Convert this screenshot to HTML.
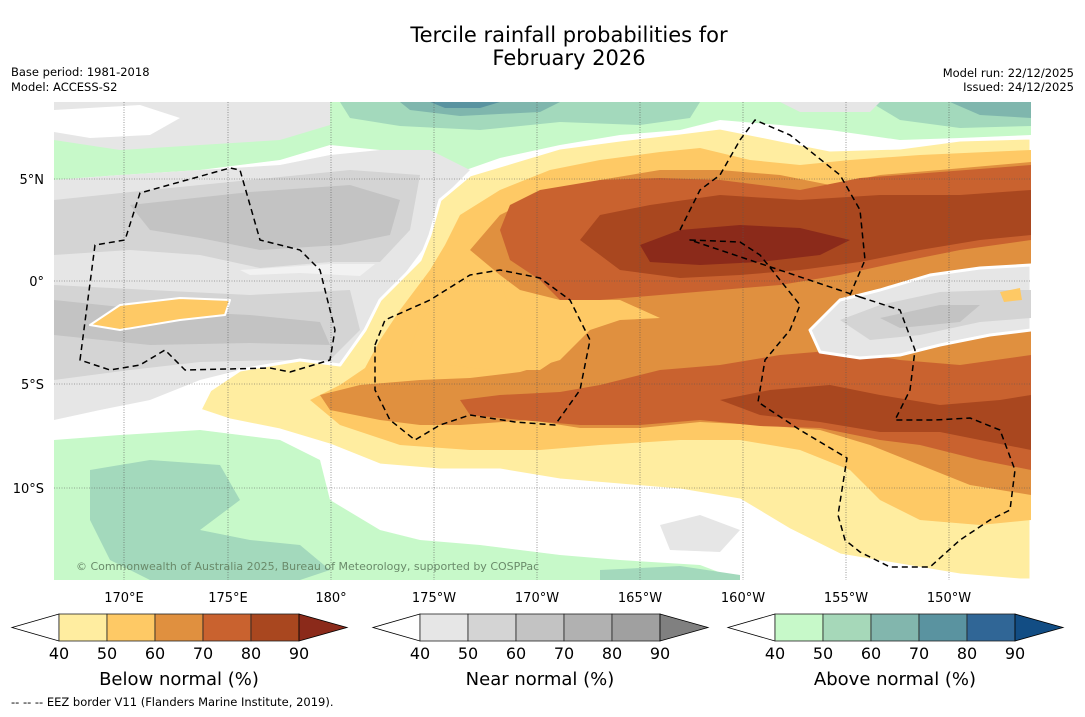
<!DOCTYPE html>
<html><head><meta charset="utf-8">
<style>
html,body{margin:0;padding:0;background:#fff;}
body{width:1085px;height:713px;overflow:hidden;font-family:"DejaVu Sans","Liberation Sans",sans-serif;}
</style></head>
<body>
<svg id="fig" width="1085" height="713" viewBox="0 0 1085 713" xmlns="http://www.w3.org/2000/svg" font-family="DejaVu Sans, Liberation Sans, sans-serif">
<rect width="1085" height="713" fill="#fff"/>
<text x="569" y="42" font-size="21" text-anchor="middle">Tercile rainfall probabilities for</text>
<text x="569" y="65" font-size="21" text-anchor="middle">February 2026</text>
<text x="11" y="76" font-size="11.5">Base period: 1981-2018</text>
<text x="11" y="91" font-size="11.5">Model: ACCESS-S2</text>
<text x="1074" y="77" font-size="11.5" text-anchor="end">Model run: 22/12/2025</text>
<text x="1074" y="91" font-size="11.5" text-anchor="end">Issued: 24/12/2025</text>

<defs><clipPath id="mc"><rect x="54" y="102" width="977" height="478"/></clipPath></defs>
<g clip-path="url(#mc)" stroke-linejoin="round">
<rect x="54" y="102" width="977" height="478" fill="#fff"/>
<path fill="#c7f9c9" d="M54,102 L1031,102 L1031,135 L960,138 L900,140 L830,130 L780,125 L720,120 L680,130 L620,135 L560,145 L500,158 L460,172 L430,160 L380,150 L330,145 L280,160 L200,170 L120,175 L54,180Z"/>
<path fill="#e6e6e6" d="M54,102 L330,102 L330,125 L280,140 L200,145 L120,150 L54,140Z"/>
<path fill="#fff" d="M54,110 L140,105 L180,118 L150,135 L90,138 L54,132Z"/>
<path fill="#a3d9bc" d="M340,102 L700,102 L690,118 L640,125 L560,122 L480,130 L400,126 L350,118Z"/>
<path fill="#7fb6ad" d="M400,102 L560,102 L540,112 L460,116 L410,110Z"/>
<path fill="#5993a0" d="M430,102 L500,102 L480,108 L445,108Z"/>
<path fill="#a3d9bc" d="M870,102 L1031,102 L1031,126 L960,128 L900,120Z"/>
<path fill="#7fb6ad" d="M950,102 L1031,102 L1031,118 L980,115Z"/>
<path fill="#e6e6e6" d="M780,102 L880,102 L870,112 L800,112Z"/>
<path fill="#c7f9c9" d="M54,440 L120,435 L200,430 L280,440 L320,460 L330,500 L380,530 L420,540 L480,545 L560,555 L620,560 L700,565 L740,580 L54,580Z"/>
<path fill="#a3d9bc" d="M90,470 L150,460 L220,465 L240,500 L200,530 L250,540 L300,545 L330,570 L300,580 L150,580 L110,560 L90,520Z"/>
<path fill="#a3d9bc" d="M600,570 L680,566 L740,575 L740,580 L600,580Z"/>
<path fill="#e6e6e6" d="M660,525 L700,515 L740,530 L720,552 L670,550Z"/>
<path fill="#e6e6e6" d="M54,180 L120,175 L200,170 L280,165 L330,155 L380,150 L430,150 L470,170 L440,200 L430,240 L400,280 L380,310 L360,340 L340,370 L300,370 L240,370 L200,380 L150,400 L100,410 L54,420Z"/>
<path fill="#d4d4d4" d="M54,200 L150,190 L250,180 L350,170 L420,175 L410,230 L380,262 L330,262 L260,268 L200,255 L130,250 L54,255Z"/>
<path fill="#d4d4d4" d="M54,285 L150,290 L250,295 L350,290 L360,330 L330,360 L280,360 L200,362 L130,370 L54,380Z"/>
<path fill="#c3c3c3" d="M130,205 L250,192 L350,185 L400,200 L390,235 L340,245 L260,250 L200,238 L150,230Z"/>
<path fill="#c3c3c3" d="M54,300 L150,310 L250,315 L320,322 L330,345 L250,343 L150,345 L54,335Z"/>
<path fill="#f2f2f2" d="M240,270 L330,264 L375,264 L360,276 L300,273 L250,275Z"/>
<path fill="#fec965" stroke="#fff" stroke-width="2" d="M90,325 L120,305 L180,298 L230,300 L225,315 L180,320 L120,330Z"/>
<path fill="#ffeda0" stroke="#fff" stroke-width="3" d="M430,235 L440,200 L470,175 L520,160 L560,148 L620,140 L680,133 L720,128 L780,140 L830,150 L900,148 L960,140 L1031,138 L1031,580 L1020,580 L960,575 L900,565 L840,555 L790,530 L740,500 L680,490 L620,485 L560,480 L500,470 L440,470 L380,465 L330,445 L280,430 L230,420 L200,410 L210,390 L240,370 L300,360 L340,365 L365,330 L380,300 L400,280 L420,260Z"/>
<path fill="#fec965" d="M445,245 L460,215 L500,190 L550,170 L600,160 L660,152 L700,148 L750,160 L800,165 L850,160 L920,155 L1031,150 L1031,520 L980,525 L920,520 L880,500 L850,470 L800,450 L740,440 L680,440 L600,445 L540,450 L470,450 L400,445 L340,425 L310,400 L340,385 L365,368 L380,340 L400,310 L430,270Z"/>
<path fill="#e0903f" d="M470,250 L500,215 L540,195 L600,180 L660,170 L720,170 L780,175 L830,185 L880,175 L940,170 L1031,162 L1031,495 L970,485 L920,465 L870,445 L820,430 L760,425 L700,422 L640,428 L580,428 L530,420 L460,425 L420,425 L380,420 L330,410 L320,395 L360,385 L420,380 L470,378 L520,372 L560,360 L590,330 L620,320 L660,318 L620,300 L560,300 L520,290 L500,275Z"/>
<path fill="#fec965" d="M460,285 L500,280 L510,310 L540,330 L570,350 L540,370 L490,370 L450,365 L410,350 L420,320 L445,300Z"/>
<path fill="#c9622f" d="M510,205 L540,190 L600,180 L660,178 L720,180 L800,190 L860,178 L940,172 L1031,165 L1031,240 L960,250 L900,262 L840,275 L780,285 L720,290 L660,295 L600,300 L560,300 L540,280 L510,260 L500,230Z"/>
<path fill="#c9622f" d="M460,400 L500,395 L560,392 L600,385 L660,370 L720,365 L780,355 L840,350 L900,360 L960,365 L1031,355 L1031,470 L980,460 L920,445 L880,440 L820,428 L760,426 L700,420 L640,425 L580,425 L520,420 L470,415Z"/>
<path fill="#a9471f" d="M580,240 L600,215 L650,205 L720,195 L800,200 L880,195 L960,195 L1031,190 L1031,235 L980,240 L920,250 L860,262 L800,270 L740,275 L680,278 L620,270Z"/>
<path fill="#a9471f" d="M720,400 L770,390 L830,385 L880,395 L940,405 L1000,400 L1031,395 L1031,450 L980,440 L940,432 L880,432 L820,422 L760,415Z"/>
<path fill="#8b2a1a" d="M640,245 L680,230 L740,225 L800,228 L850,240 L820,255 L760,262 L700,265 L650,262Z"/>
<path fill="#e6e6e6" stroke="#fff" stroke-width="3" d="M810,330 L840,300 L880,290 L930,275 L980,268 L1031,265 L1031,330 L990,335 L940,345 L900,355 L860,358 L820,352Z"/>
<path fill="#d4d4d4" d="M840,320 L880,305 L940,292 L1000,290 L1031,290 L1031,318 L980,322 L920,335 L870,340Z"/>
<path fill="#c3c3c3" d="M880,318 L940,305 L980,305 L960,322 L900,328Z"/>
<path fill="#fec965" d="M1000,292 L1020,288 L1022,300 L1004,302Z"/>
<g stroke="#555" stroke-width="0.6" stroke-dasharray="1,1.5">
<line x1="124" y1="102" x2="124" y2="580"/><line x1="228" y1="102" x2="228" y2="580"/><line x1="331" y1="102" x2="331" y2="580"/><line x1="434" y1="102" x2="434" y2="580"/><line x1="537" y1="102" x2="537" y2="580"/><line x1="640" y1="102" x2="640" y2="580"/><line x1="743" y1="102" x2="743" y2="580"/><line x1="846" y1="102" x2="846" y2="580"/><line x1="949" y1="102" x2="949" y2="580"/>
<line x1="54" y1="179" x2="1031" y2="179"/><line x1="54" y1="281" x2="1031" y2="281"/><line x1="54" y1="384" x2="1031" y2="384"/><line x1="54" y1="488" x2="1031" y2="488"/>
</g>
<g fill="none" stroke="#000" stroke-width="1.5" stroke-dasharray="6,4">
<path d="M80,360 L95,245 L125,240 L140,193 L230,168 L240,170 L260,240 L300,250 L320,270 L335,330 L330,360 L290,372 L270,368 L185,370 L165,350 L140,365 L110,370 Z"/>
<path d="M375,345 L385,320 L430,300 L470,275 L500,270 L540,278 L570,300 L590,340 L580,390 L555,425 L515,422 L470,415 L440,425 L415,440 L390,420 L375,390 Z"/>
<path d="M680,230 L700,190 L720,175 L740,140 L755,120 L790,135 L840,175 L860,210 L865,260 L850,295"/>
<path d="M860,297 L900,310 L915,350 L910,390 L895,420 L935,420 L970,418 L1000,430 L1015,470 L1010,510 L990,520 L960,540 L930,567 L890,567 L860,552 L845,540 L838,515 L847,458 L800,430 L758,402 L765,360 L790,330 L800,305 L780,280 L760,255 L740,242 L690,240 Z"/>
</g>
<text x="76" y="570" font-size="11" fill="#6a8a6a">© Commonwealth of Australia 2025, Bureau of Meteorology, supported by COSPPac</text>
</g>
<g font-size="13" text-anchor="end">
<text x="44" y="184">5°N</text><text x="44" y="286">0°</text><text x="44" y="389">5°S</text><text x="44" y="493">10°S</text>
</g>
<g font-size="13" text-anchor="middle">
<text x="124" y="602">170°E</text><text x="228" y="602">175°E</text><text x="331" y="602">180°</text><text x="434" y="602">175°W</text><text x="537" y="602">170°W</text><text x="640" y="602">165°W</text><text x="743" y="602">160°W</text><text x="846" y="602">155°W</text><text x="949" y="602">150°W</text>
</g>
<g id="cbars"></g>
<text x="11" y="706" font-size="11.5">--  --  -- EEZ border V11 (Flanders Marine Institute, 2019).</text>
</svg>
<script>
const tickLabels = [40, 50, 60, 70, 80, 90];
const belowColors = ["#ffeda0", "#fec965", "#e0903f", "#c9622f", "#a9471f"];
const belowOver = "#8b2a1a";
const nearColors = ["#e6e6e6", "#d4d4d4", "#c3c3c3", "#b1b1b1", "#a0a0a0"];
const nearOver = "#808080";
const aboveColors = ["#c7f9c9", "#a6d8b9", "#82b6ad", "#5a93a0", "#306696"];
const aboveOver = "#124d84";
const barTitles = ["Below normal (%)", "Near normal (%)", "Above normal (%)"];
const barStarts = [59, 420, 775];
const NS = "http://www.w3.org/2000/svg";
const g = document.getElementById("cbars");
const segW = 48, y0 = 614, h = 27;
function xs(start, v) { return start + (v - tickLabels[0]) / (tickLabels[1] - tickLabels[0]) * segW; }
function mk(tag, attrs, parent) { const e = document.createElementNS(NS, tag); for (const k in attrs) e.setAttribute(k, attrs[k]); parent.appendChild(e); return e; }
[[belowColors, belowOver], [nearColors, nearOver], [aboveColors, aboveOver]].forEach((pair, bi) => {
  const s = barStarts[bi];
  const bg = mk("g", {}, g);
  
  
  const xEnd = xs(s, tickLabels[tickLabels.length - 1]);
  const under = mk("polygon", { points: `${s},${y0} ${s - 47},${y0 + h / 2} ${s},${y0 + h}`, fill: "#fff", stroke: "#000", "stroke-width": 0.8 }, bg);
  
  
  pair[0].forEach((c, i) => {
    const r = mk("rect", { x: xs(s, tickLabels[i]), y: y0, width: xs(s, tickLabels[i + 1]) - xs(s, tickLabels[i]), height: h, fill: c, stroke: "#222", "stroke-width": 0.8 }, bg);
    
    
  });
  const over = mk("polygon", { points: `${xEnd},${y0} ${xEnd + 48},${y0 + h / 2} ${xEnd},${y0 + h}`, fill: pair[1], stroke: "#000", "stroke-width": 0.8 }, bg);
  
  
  tickLabels.forEach(v => {
    const t = mk("text", { x: xs(s, v), y: 659, "font-size": 16, "text-anchor": "middle" }, bg);
    
    
    t.textContent = v;
  });
  const tt = mk("text", { x: xs(s, 65), y: 685, "font-size": 18, "text-anchor": "middle" }, bg);
  
  
  tt.textContent = barTitles[bi];
});
</script>
</body></html>
